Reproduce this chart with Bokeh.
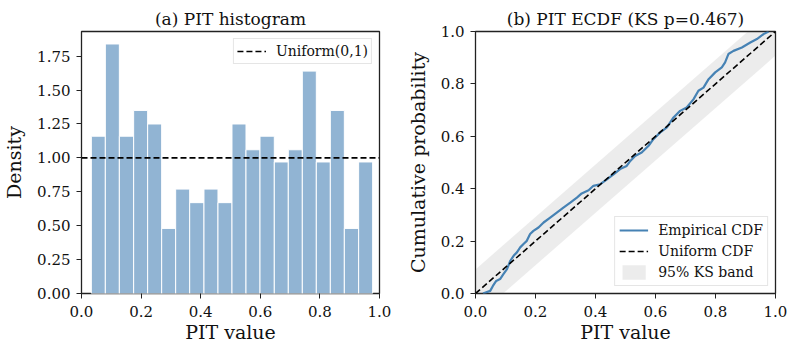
from bokeh.plotting import figure
from bokeh.layouts import row
from bokeh.models import Range1d, FixedTicker, PrintfTickFormatter, Legend, LegendItem
from bokeh.embed import file_html
from bokeh.resources import INLINE

FONT = "DejaVu Serif"

# ---------------- data ----------------
bin_edges = [0.033, 0.080, 0.127, 0.175, 0.222, 0.269, 0.316, 0.363, 0.411, 0.458,
             0.505, 0.552, 0.599, 0.647, 0.694, 0.741, 0.788, 0.835, 0.882, 0.930, 0.977]
density = [1.16, 1.84, 1.16, 1.35, 1.25, 0.48, 0.77, 0.67, 0.77, 0.67,
           1.25, 1.06, 1.16, 0.97, 1.06, 1.64, 0.97, 1.35, 0.48, 0.97]
uniform_density = 1.0

ecdf_x = [0.025, 0.049, 0.058, 0.069, 0.082, 0.093, 0.105, 0.116, 0.127, 0.138,
          0.149, 0.160, 0.171, 0.182, 0.193, 0.210, 0.227, 0.249, 0.271, 0.293,
          0.316, 0.338, 0.354, 0.377, 0.393, 0.416, 0.438, 0.460, 0.482, 0.504,
          0.516, 0.532, 0.554, 0.577, 0.593, 0.616, 0.638, 0.660, 0.682, 0.704,
          0.727, 0.743, 0.760, 0.777, 0.799, 0.821, 0.832, 0.843, 0.860, 0.888,
          0.916, 0.938, 0.960, 0.977]
ecdf_y = [0.000, 0.010, 0.029, 0.048, 0.055, 0.074, 0.093, 0.125, 0.144, 0.157,
          0.176, 0.189, 0.201, 0.227, 0.239, 0.252, 0.271, 0.290, 0.309, 0.328,
          0.347, 0.366, 0.382, 0.394, 0.411, 0.417, 0.436, 0.455, 0.475, 0.487,
          0.506, 0.525, 0.538, 0.564, 0.589, 0.615, 0.634, 0.672, 0.697, 0.710,
          0.742, 0.774, 0.786, 0.818, 0.844, 0.863, 0.882, 0.914, 0.926, 0.939,
          0.958, 0.971, 0.990, 1.000]

uniform_cdf_x = [0.0, 1.0]
uniform_cdf_y = [0.0, 1.0]

ks_band_x = [0.0, 0.092, 1.0, 1.0, 0.908, 0.0]
ks_band_y = [0.0, 0.0, 0.908, 1.0, 1.0, 0.092]

hist_ticks = [0.0, 0.25, 0.5, 0.75, 1.0, 1.25, 1.5, 1.75]
unit_ticks = [0.0, 0.2, 0.4, 0.6, 0.8, 1.0]

BAR = "#91b4d3"
LINE = "#4682b4"


def style(p, yticks, yfmt, title):
    p.grid.visible = False
    p.outline_line_color = "#222222"
    p.outline_line_width = 1.3
    for ax in (p.xaxis[0], p.yaxis[0]):
        ax.axis_line_color = None
        ax.major_tick_in = 0
        ax.major_tick_out = 5
        ax.minor_tick_line_color = None
        ax.major_tick_line_color = "#222222"
        ax.major_tick_line_width = 1
        ax.major_label_text_font = FONT
        ax.major_label_text_font_size = "15px"
        ax.major_label_text_color = "#111111"
        ax.major_label_standoff = 6
        ax.axis_label_text_font = FONT
        ax.axis_label_text_font_size = "19px"
        ax.axis_label_text_font_style = "normal"
        ax.axis_label_text_color = "#111111"
    p.xaxis[0].ticker = FixedTicker(ticks=unit_ticks)
    p.xaxis[0].formatter = PrintfTickFormatter(format="%.1f")
    p.yaxis[0].ticker = FixedTicker(ticks=yticks)
    p.yaxis[0].formatter = PrintfTickFormatter(format=yfmt)
    p.xaxis[0].axis_label = "PIT value"
    p.xaxis[0].major_label_standoff = 7
    p.xaxis[0].axis_label_standoff = 1
    p.yaxis[0].axis_label_standoff = 9
    p.title.text = title
    p.title.align = "center"
    p.title.text_font = FONT
    p.title.text_font_size = "17px"
    p.title.text_font_style = "normal"
    p.title.text_color = "#111111"
    p.title.standoff = 6


def style_legend(lg):
    lg.label_text_font = FONT
    lg.label_text_font_size = "14px"
    lg.label_text_color = "#111111"
    lg.glyph_width = 29
    lg.glyph_height = 18
    lg.label_height = 18
    lg.label_standoff = 10
    lg.spacing = 3
    lg.padding = 4
    lg.margin = 7
    lg.border_line_color = "#cccccc"
    lg.border_line_width = 1
    lg.background_fill_alpha = 0.8


H = 352

# ---------------- (a) histogram ----------------
p1 = figure(width=396, height=H, x_range=Range1d(0, 1), y_range=Range1d(0, 1.932),
            output_backend="svg", toolbar_location=None,
            min_border_left=79, min_border_right=17, min_border_top=31, min_border_bottom=59)
p1.quad(left=bin_edges[:-1], right=bin_edges[1:], bottom=0, top=density,
        fill_color=BAR, line_color="white", line_width=1)
u_line = p1.line(x=[0, 1], y=[uniform_density, uniform_density], line_color="black",
                 line_width=1.6, line_dash="6 3")
style(p1, hist_ticks, "%.2f", "(a) PIT histogram")
p1.yaxis[0].axis_label = "Density"
lg1 = Legend(items=[LegendItem(label="Uniform(0,1)", renderers=[u_line])], location="top_right")
style_legend(lg1)
lg1.padding = 3
p1.add_layout(lg1)

# ---------------- (b) ECDF ----------------
p2 = figure(width=398, height=H, x_range=Range1d(0, 1), y_range=Range1d(0, 1),
            output_backend="svg", toolbar_location=None,
            min_border_left=79, min_border_right=19, min_border_top=31, min_border_bottom=59)
band = p2.patch(x=ks_band_x, y=ks_band_y, fill_color="#808080", fill_alpha=0.15, line_color=None)
emp = p2.line(x=ecdf_x, y=ecdf_y, line_color=LINE, line_width=2.2)
uni = p2.line(x=uniform_cdf_x, y=uniform_cdf_y, line_color="black", line_width=1.6, line_dash="6 3")
style(p2, unit_ticks, "%.1f", "(b) PIT ECDF (KS p=0.467)")
p2.yaxis[0].axis_label = "Cumulative probability"
lg2 = Legend(items=[LegendItem(label="Empirical CDF", renderers=[emp]),
                    LegendItem(label="Uniform CDF", renderers=[uni]),
                    LegendItem(label="95% KS band", renderers=[band])],
             location="bottom_right")
style_legend(lg2)
p2.add_layout(lg2)

layout = row(p1, p2)
open("out.html", "w").write(file_html(layout, INLINE))
